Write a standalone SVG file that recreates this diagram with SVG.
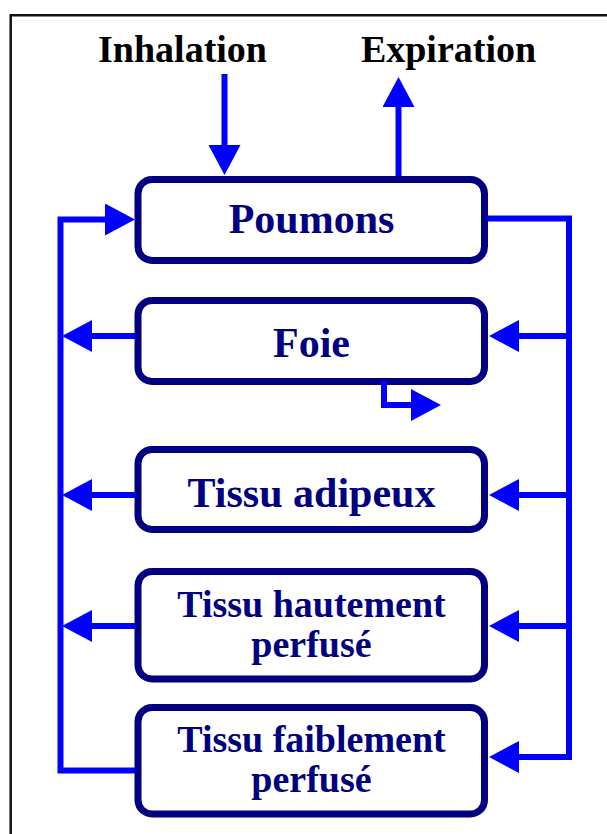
<svg xmlns="http://www.w3.org/2000/svg" width="607" height="834" viewBox="0 0 607 834">
  <style>
    .box { fill: #ffffff; stroke: #000080; stroke-width: 7; }
    .lbl { font-family: "Liberation Serif", "Times New Roman", serif; font-weight: bold; fill: #000080; text-anchor: middle; }
    .top { font-family: "Liberation Serif", "Times New Roman", serif; font-weight: bold; fill: #000000; text-anchor: middle; font-size: 38px; }
    .con { fill: none; stroke: #0000ff; stroke-width: 6; stroke-linejoin: miter; }
  </style>
  <defs>
    <marker id="ah" viewBox="0 0 30 32" refX="0" refY="16" markerWidth="30" markerHeight="32" markerUnits="userSpaceOnUse" orient="auto">
      <path d="M0,0 L30,16 L0,32 Z" fill="#0000ff"/>
    </marker>
  </defs>
  <rect x="0" y="0" width="607" height="834" fill="#ffffff"/>
  <path d="M10.7,834 V15.3 H607" fill="none" stroke="#111111" stroke-width="2.5"/>

  <g id="inhalation">
    <text class="top" x="182.5" y="62">Inhalation</text>
  </g>
  <g id="expiration">
    <text class="top" x="448.5" y="62">Expiration</text>
  </g>

  <g id="poumons">
    <rect class="box" x="138" y="179.5" width="346.5" height="81" rx="14"/>
    <text class="lbl" x="311.5" y="233" font-size="42">Poumons</text>
  </g>
  <g id="foie">
    <rect class="box" x="138" y="300.5" width="346.5" height="81" rx="14"/>
    <text class="lbl" x="311.5" y="357" font-size="42">Foie</text>
  </g>
  <g id="tissu-adipeux">
    <rect class="box" x="138" y="449.5" width="346.5" height="80" rx="14"/>
    <text class="lbl" x="311.5" y="507" font-size="42">Tissu adipeux</text>
  </g>
  <g id="tissu-hautement">
    <rect class="box" x="138" y="571.5" width="346.5" height="107.5" rx="14"/>
    <text class="lbl" x="311.5" y="617" font-size="38">Tissu hautement</text>
    <text class="lbl" x="311.5" y="657" font-size="38">perfusé</text>
  </g>
  <g id="tissu-faiblement">
    <rect class="box" x="138" y="707.5" width="346.5" height="106.5" rx="14"/>
    <text class="lbl" x="311.5" y="752" font-size="38">Tissu faiblement</text>
    <text class="lbl" x="311.5" y="792" font-size="38">perfusé</text>
  </g>

  <g id="connectors">
    <path class="con" d="M224.5,74 V145" marker-end="url(#ah)"/>
    <path class="con" d="M398.5,176 V107" marker-end="url(#ah)"/>
    <path class="con" d="M135,770.5 H60.5 V219.5 H105" marker-end="url(#ah)"/>
    <path class="con" d="M487,218.5 H569 V757 H519" marker-end="url(#ah)"/>
    <path class="con" d="M569,336 H519" marker-end="url(#ah)"/>
    <path class="con" d="M135,336 H92" marker-end="url(#ah)"/>
    <path class="con" d="M569,495 H519" marker-end="url(#ah)"/>
    <path class="con" d="M135,495 H92" marker-end="url(#ah)"/>
    <path class="con" d="M569,626 H519" marker-end="url(#ah)"/>
    <path class="con" d="M135,626 H92" marker-end="url(#ah)"/>
    <path class="con" d="M384,381 V405 H411" marker-end="url(#ah)"/>
  </g>
</svg>
